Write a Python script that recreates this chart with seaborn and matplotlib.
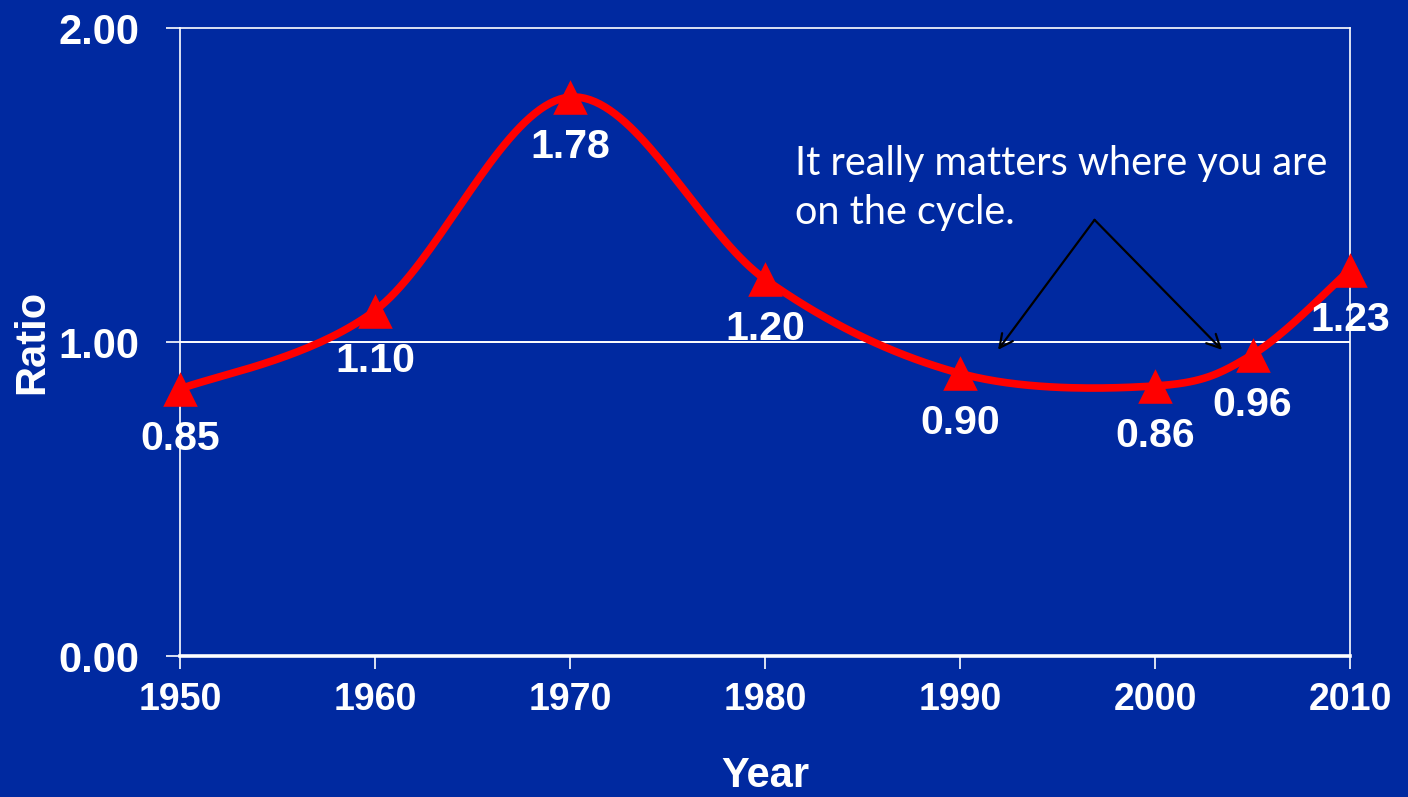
import numpy as np
import pandas as pd
import matplotlib
matplotlib.use("Agg")
import matplotlib.pyplot as plt
import seaborn as sns

years = [1950, 1960, 1970, 1980, 1990, 2000, 2005, 2010]
ratios = [0.85, 1.10, 1.78, 1.20, 0.90, 0.86, 0.96, 1.23]
labels = ["0.85", "1.10", "1.78", "1.20", "0.90", "0.86", "0.96", "1.23"]
x_ticks = [1950, 1960, 1970, 1980, 1990, 2000, 2010]
y_ticks = [0.0, 1.0, 2.0]
note = "It really matters where you are\non the cycle."

BG = "#0029A0"
RED = "#FF0000"

sns.set_theme(style="white")
plt.rcParams["font.family"] = ["Liberation Sans", "DejaVu Sans"]

df = pd.DataFrame({"Year": years, "Ratio": ratios})


def smooth_path(xs, ys, n=40):
    """Excel-like smoothed line (Catmull-Rom Bezier) through the data points."""
    xs = np.asarray(xs, float)
    ys = np.asarray(ys, float)
    px = np.concatenate([[xs[0]], xs, [xs[-1]]])
    py = np.concatenate([[ys[0]], ys, [ys[-1]]])
    outx, outy = [], []
    t = np.linspace(0, 1, n)
    for i in range(1, len(px) - 2):
        p0 = np.array([px[i], py[i]])
        p3 = np.array([px[i + 1], py[i + 1]])
        c1 = p0 + (np.array([px[i + 1], py[i + 1]]) - np.array([px[i - 1], py[i - 1]])) / 6
        c2 = p3 - (np.array([px[i + 2], py[i + 2]]) - np.array([px[i], py[i]])) / 6
        b = ((1 - t) ** 3)[:, None] * p0 + (3 * (1 - t) ** 2 * t)[:, None] * c1 \
            + (3 * (1 - t) * t ** 2)[:, None] * c2 + (t ** 3)[:, None] * p3
        outx.extend(b[:, 0])
        outy.extend(b[:, 1])
    return np.array(outx), np.array(outy)


fig = plt.figure(figsize=(14.08, 7.97), dpi=100, facecolor=BG)
ax = fig.add_axes([180 / 1408, 1 - 656 / 797, (1350 - 180) / 1408, (656 - 28) / 797])
ax.set_facecolor(BG)

sx, sy = smooth_path(df["Year"], df["Ratio"])
ax.plot(sx, sy, color=RED, lw=5.5, solid_capstyle="round", zorder=3, clip_on=False)
sns.scatterplot(data=df, x="Year", y="Ratio", marker="^", s=620, color=RED,
                edgecolor=RED, linewidth=0, ax=ax, zorder=4, legend=False,
                clip_on=False)

for x, y, lab in zip(years, ratios, labels):
    ax.annotate(lab, (x, y), xytext=(0, -36), textcoords="offset points",
                ha="center", va="center", color="white", fontsize=29.5,
                fontweight="bold", zorder=5)

ax.set_xlim(1950, 2010)
ax.set_ylim(0, 2)
ax.set_xticks(x_ticks)
ax.set_yticks(y_ticks)
ax.set_yticklabels([f"{v:.2f}" for v in y_ticks])
ax.axhline(1.0, color="white", lw=1.4, zorder=1)

for side in ["left", "right", "top"]:
    ax.spines[side].set_color("white")
    ax.spines[side].set_linewidth(1.2)
ax.spines["bottom"].set_color("white")
ax.spines["bottom"].set_linewidth(2.6)

ax.tick_params(axis="x", colors="white", length=9, width=1.2, direction="out",
               pad=10, labelsize=27)
ax.tick_params(axis="y", colors="white", length=10, width=1.2, direction="out",
               pad=19, labelsize=30)
ax.tick_params(bottom=True, left=True)
for t in ax.get_xticklabels() + ax.get_yticklabels():
    t.set_fontweight("bold")

ax.set_xlabel("Year", color="white", fontsize=30, fontweight="bold", labelpad=27)
ax.set_ylabel("Ratio", color="white", fontsize=30, fontweight="bold", labelpad=5)

ax.text(1981.55, 1.49, note, color="white", fontsize=28.5, family=["Lato", "DejaVu Sans"],
        ha="left", va="center", linespacing=1.38, zorder=5)

for tx in (1991.95, 2003.44):
    ax.annotate("", xy=(tx, 0.975), xytext=(1996.9, 1.389),
                arrowprops=dict(arrowstyle="->", color="black", lw=1.6,
                                mutation_scale=24, shrinkA=0, shrinkB=0), zorder=5)

fig.savefig("out.png", dpi=100, facecolor=BG)
